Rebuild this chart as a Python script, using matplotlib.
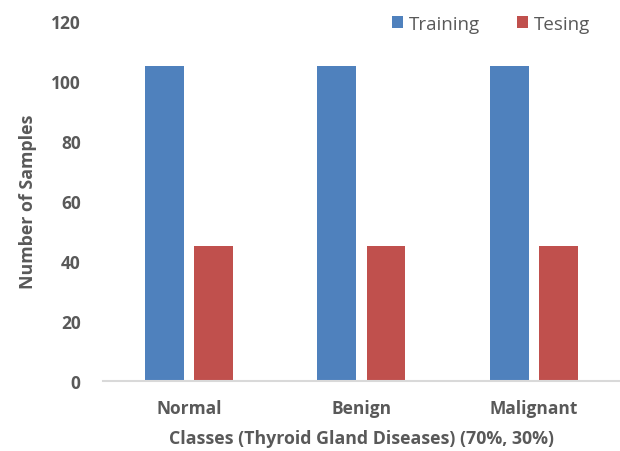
import numpy as np
import matplotlib
matplotlib.use('Agg')
import matplotlib.pyplot as plt

# chart data
classes = ['Normal', 'Benign', 'Malignant']
training = [105, 105, 105]
testing = [45, 45, 45]
series_names = ['Training', 'Tesing']

plt.rcParams['font.family'] = ['Open Sans', 'DejaVu Sans']

fig = plt.figure(figsize=(6.2, 4.52), dpi=100)
ax = fig.add_axes([0.166, 0.155, 0.834, 0.796])

x = np.arange(len(classes))
w = 0.225
ax.bar(x - 0.143, training, width=w, color='#4f81bd', label=series_names[0])
ax.bar(x + 0.143, testing, width=w, color='#c0504d', label=series_names[1])

ax.set_xlim(-0.5, 2.5)
ax.set_ylim(0, 120)
ax.set_yticks(range(0, 121, 20))
ax.set_xticks(x)
ax.set_xticklabels(classes)

for s in ['top', 'right', 'left']:
    ax.spines[s].set_visible(False)
ax.spines['bottom'].set_color('#d9d9d9')
ax.spines['bottom'].set_linewidth(1.5)
ax.tick_params(length=0)
ax.tick_params(axis='y', pad=16)
ax.tick_params(axis='x', pad=13)
for lab in ax.get_xticklabels() + ax.get_yticklabels():
    lab.set_fontsize(12.5)
    lab.set_fontweight('bold')
    lab.set_color('#595959')

ax.set_xlabel('Classes (Thyroid Gland Diseases) (70%, 30%)', fontsize=12.8,
              fontweight='bold', color='#595959', labelpad=9)
ax.set_ylabel('Number of Samples', fontsize=12.8, fontweight='bold',
              color='#595959', labelpad=10)

leg = ax.legend(loc='upper right', bbox_to_anchor=(0.975, 1.065), ncol=2,
                frameon=False, fontsize=13.5, handlelength=0.6, handleheight=0.6,
                handletextpad=0.3, columnspacing=2.0)
for t in leg.get_texts():
    t.set_color('#595959')

fig.savefig('out.png', dpi=100)
